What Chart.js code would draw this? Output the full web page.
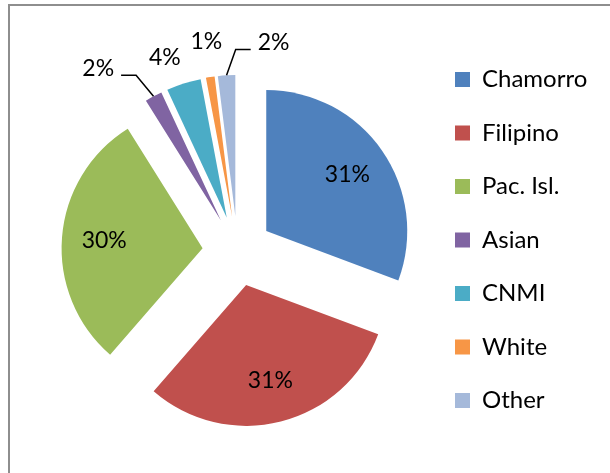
<!DOCTYPE html>
<html>
<head>
<meta charset="utf-8">
<script src="https://cdn.jsdelivr.net/npm/chart.js@4"></script>
<style>
  html, body { margin: 0; padding: 0; background: #fff; overflow: hidden; }
  #frame { position: absolute; left: 8px; top: 4px; width: 700px; height: 600px; border: 2px solid #8e8e8e; }
  #pie { position: absolute; left: 0; top: 0; }
</style>
</head>
<body>
<div id="frame"></div>
<canvas id="pie" width="610" height="473"></canvas>
<script>
// chart data
const categories = ["Chamorro", "Filipino", "Pac. Isl.", "Asian", "CNMI", "White", "Other"];
const values = [31, 31, 30, 2, 4, 1, 2];
const sliceColors = ["#4F81BD", "#C0504D", "#9BBB59", "#8064A2", "#4BACC6", "#F79646", "#A5B9DA"];

// label placement for the thin slices (shift from the default outside spot) and leader lines
const labelShift = [null, null, null, [-40, 0], [-9, 5], [1, -3.5], [49, -1]];
const useLeader = [false, false, false, true, false, false, true];

const FONT = "Lato";
const LABEL_SIZE = 23;
const LEGEND_SIZE = 24;
const LEGEND_PAD = 53.5 - LEGEND_SIZE;
const LEGEND_BOX_X = 455;
const EXPLODE = 35; // every slice pulled out by the same distance

function drawLabels(chart) {
	const ctx = chart.ctx;
	const meta = chart.getDatasetMeta(0);
	const R = meta.controller.outerRadius;
	const total = values.reduce((a, b) => a + b, 0);
	ctx.save();
	ctx.font = LABEL_SIZE + "px " + FONT;
	ctx.fillStyle = "#000";
	ctx.strokeStyle = "#000";
	ctx.lineWidth = 1.5;
	ctx.textAlign = "center";
	ctx.textBaseline = "middle";
	meta.data.forEach((arc, i) => {
		const mid = (arc.startAngle + arc.endAngle) / 2;
		const dx = Math.cos(mid), dy = Math.sin(mid);
		const txt = Math.round((values[i] / total) * 100) + "%";
		if (!labelShift[i]) {
			const r = EXPLODE + R * 0.7;
			ctx.fillText(txt, arc.x + dx * r, arc.y + dy * r);
			return;
		}
		const r = EXPLODE + R + 32;
		const lx = arc.x + dx * r + labelShift[i][0];
		const ly = arc.y + dy * r + labelShift[i][1];
		ctx.fillText(txt, lx, ly);
		if (useLeader[i]) {
			const sx = arc.x + dx * (EXPLODE + R);
			const sy = arc.y + dy * (EXPLODE + R);
			const halfW = ctx.measureText(txt).width / 2;
			const side = lx < sx ? 1 : -1;
			const ex = lx + side * (halfW + 7);
			const ey = ly + 7;
			ctx.beginPath();
			ctx.moveTo(sx, sy);
			ctx.lineTo(ex + side * 15, ey);
			ctx.lineTo(ex, ey);
			ctx.stroke();
		}
	});
	ctx.restore();
}

// exploded pie: draw each arc moved out along its middle angle
const explodedPie = {
	id: "explodedPie",
	beforeDatasetsDraw(chart) {
		const ctx = chart.ctx;
		const meta = chart.getDatasetMeta(0);
		meta.data.forEach((arc) => {
			const mid = (arc.startAngle + arc.endAngle) / 2;
			ctx.save();
			ctx.translate(Math.cos(mid) * EXPLODE, Math.sin(mid) * EXPLODE);
			arc.draw(ctx);
			ctx.restore();
		});
		drawLabels(chart);
		return false;
	},
};

function draw() {
	Chart.defaults.font.family = FONT;
	Chart.defaults.color = "#000";
	const chart = new Chart(document.getElementById("pie"), {
		type: "pie",
		data: {
			labels: categories,
			datasets: [
				{
					data: values,
					backgroundColor: sliceColors,
					borderWidth: 0,
					hoverOffset: 0,
					radius: 141,
				},
			],
		},
		options: {
			responsive: false,
			animation: false,
			events: [],
			layout: { padding: { left: 49.5, right: 0, top: 38, bottom: 9 } },
			plugins: {
				tooltip: { enabled: false },
				legend: {
					position: "right",
					align: "start",
					labels: {
						boxWidth: 15,
						boxHeight: 15,
						padding: LEGEND_PAD,
						color: "#000",
						font: { family: FONT, size: LEGEND_SIZE },
					},
				},
			},
		},
		plugins: [explodedPie],
	});
	// slide the legend so its boxes sit where the original has them
	const shift = chart.legend.left + LEGEND_PAD - LEGEND_BOX_X;
	chart.options.layout.padding.right += shift;
	chart.update();
}

document.fonts.load(LEGEND_SIZE + "px " + FONT).then(draw, draw);
</script>
</body>
</html>
